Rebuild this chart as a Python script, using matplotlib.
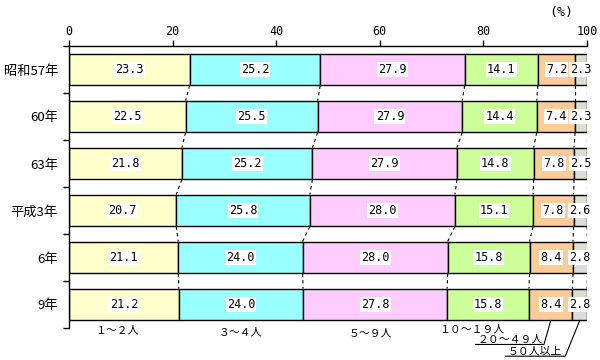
import matplotlib
matplotlib.use("Agg")
import matplotlib.pyplot as plt
import numpy as np

years = ["昭和57年", "60年", "63年", "平成3年", "6年", "9年"]
categories = ["１～２人", "３～４人", "５～９人", "１０～１９人", "２０～４９人", "５０人以上"]
s1 = [23.3, 22.5, 21.8, 20.7, 21.1, 21.2]
s2 = [25.2, 25.5, 25.2, 25.8, 24.0, 24.0]
s3 = [27.9, 27.9, 27.9, 28.0, 28.0, 27.8]
s4 = [14.1, 14.4, 14.8, 15.1, 15.8, 15.8]
s5 = [7.2, 7.4, 7.8, 7.8, 8.4, 8.4]
s6 = [2.3, 2.3, 2.5, 2.6, 2.8, 2.8]
series = [s1, s2, s3, s4, s5, s6]
colors = ["#FFFFCC", "#99FFFF", "#FFCCFF", "#CCFF99", "#FFCC99", "#DDDDD5"]

plt.rcParams['font.family'] = ['Noto Sans CJK JP', 'DejaVu Sans']

fig = plt.figure(figsize=(6, 3.6), dpi=100)
ax = fig.add_axes([69/600, 1-328/360, (587-69)/600, (328-46)/360])

n = len(years)
y = np.arange(n)
h = 0.68
data = np.array(series)
cum = np.vstack([np.zeros(n), np.cumsum(data, axis=0)])

for k in range(len(series)):
    ax.barh(y, data[k], left=cum[k], height=h, color=colors[k],
            edgecolor="black", linewidth=1.0, zorder=2)
    for i in range(n):
        xc = cum[k, i] + data[k, i] / 2
        ax.text(xc, y[i], f"{data[k, i]:.1f}", ha="center", va="center",
                fontsize=8.5, family="DejaVu Sans Mono", zorder=4,
                bbox=dict(boxstyle="square,pad=0.1", fc="white", ec="none"))

# dashed connectors between bars
for i in range(n - 1):
    for k in range(1, len(series) + 1):
        ax.plot([cum[k, i], cum[k, i + 1]], [y[i] + h/2, y[i + 1] - h/2],
                color="black", lw=0.8, linestyle=(0, (3, 3)), zorder=1)

ax.set_xlim(0, 100)
ax.set_ylim(n - 0.5, -0.5)
ax.xaxis.tick_top()
ax.set_xticks([0, 20, 40, 60, 80, 100])
ax.set_xticklabels(["0", "20", "40", "60", "80", "100"], family="DejaVu Sans Mono", fontsize=8.5)
ax.tick_params(axis="x", direction="out", length=4, width=1, pad=2)

ax.set_yticks(np.arange(-0.5, n, 1.0))
ax.set_yticklabels([])
ax.tick_params(axis="y", which="major", direction="out", length=4, width=1)
ax.set_yticks(y, minor=True)
ax.set_yticklabels(years, minor=True, fontsize=9.5)
ax.tick_params(axis="y", which="minor", length=0, pad=8)

for s in ["right", "bottom"]:
    ax.spines[s].set_visible(False)
for s in ["top", "left"]:
    ax.spines[s].set_linewidth(1.0)

ax.text(95, -1.22, "(%)", ha="center", va="center", fontsize=9.5,
        family="DejaVu Sans Mono", clip_on=False)

# category labels below
fs = 7.8
lab_y = n - 0.5 + 0.05
ax.text(9.3, lab_y, categories[0], ha="center", va="center", fontsize=fs, clip_on=False)
ax.text(33.0, lab_y + 0.05, categories[1], ha="center", va="center", fontsize=fs, clip_on=False)
ax.text(58.1, lab_y + 0.07, categories[2], ha="center", va="center", fontsize=fs, clip_on=False)
ax.text(77.8, lab_y - 0.01, categories[3], ha="center", va="center", fontsize=fs, clip_on=False)

last = n - 1
# 20-49 label with leader
tx5, ty5 = 85.1, n - 0.5 + 0.25
ax.text(tx5, ty5, categories[4], ha="center", va="center", fontsize=fs, clip_on=False)
xc5 = cum[4, last] + data[4, last] / 2
ax.plot([tx5 - 6.6, tx5 + 6.6, xc5], [ty5 + 0.1, ty5 + 0.1, y[last] + h/2],
        color="black", lw=0.8, clip_on=False)
# 50+ label with leader
tx6, ty6 = 90.0, n - 0.5 + 0.5
ax.text(tx6, ty6, categories[5], ha="center", va="center", fontsize=fs, clip_on=False)
xc6 = cum[5, last] + data[5, last] / 2
ax.plot([tx6 - 5.8, tx6 + 5.8, xc6], [ty6 + 0.1, ty6 + 0.1, y[last] + h/2],
        color="black", lw=0.8, clip_on=False)

fig.savefig("out.png", dpi=100)
